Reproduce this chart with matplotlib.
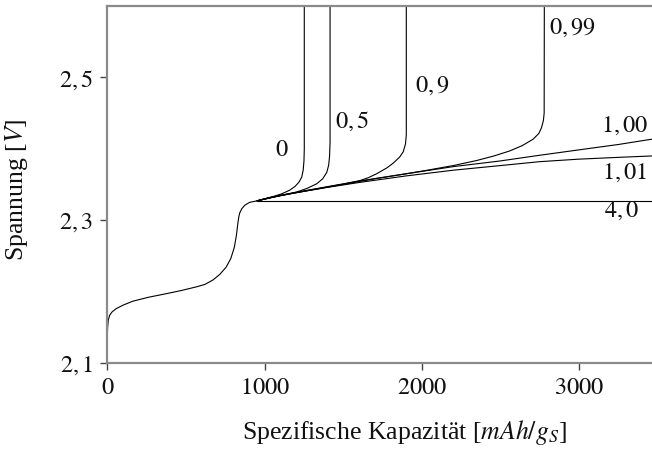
import matplotlib
matplotlib.use("Agg")
import matplotlib.pyplot as plt
from matplotlib.ticker import FuncFormatter

plt.rcParams["font.family"] = ["Liberation Serif", "DejaVu Serif"]
plt.rcParams["mathtext.fontset"] = "stix"

# Common discharge path (capacity in mAh/g_S, voltage in V)
base_cap = [0, 2, 6, 15, 30, 55, 100, 161, 260, 373, 470, 564, 620, 670, 715,
            755, 785, 808, 822, 830, 836, 842, 855, 875, 905, 950]
base_volt = [2.1395, 2.150, 2.160, 2.167, 2.1715, 2.176, 2.181, 2.1865, 2.192,
             2.197, 2.2015, 2.2065, 2.210, 2.216, 2.224, 2.234, 2.246, 2.262,
             2.280, 2.295, 2.304, 2.310, 2.316, 2.321, 2.325, 2.327]

# Branches after the plateau onset
cap_0 = [950, 1000, 1060, 1110, 1160, 1195, 1220, 1237, 1246, 1251, 1253, 1253]
volt_0 = [2.327, 2.3300, 2.3335, 2.3370, 2.3420, 2.3475, 2.3535, 2.3605,
          2.3700, 2.3830, 2.4000, 2.6000]

cap_05 = [950, 1030, 1120, 1205, 1270, 1332, 1370, 1396, 1408, 1414, 1417, 1417]
volt_05 = [2.327, 2.3315, 2.3355, 2.3395, 2.3445, 2.3510, 2.3580, 2.3670,
           2.3770, 2.3900, 2.4100, 2.6000]

cap_09 = [950, 1100, 1250, 1400, 1500, 1607, 1660, 1713, 1780, 1819, 1860,
          1883, 1897, 1902, 1902]
volt_09 = [2.327, 2.3345, 2.3405, 2.3465, 2.3505, 2.3555, 2.3595, 2.3650,
           2.3735, 2.3800, 2.3885, 2.3960, 2.4070, 2.4200, 2.6000]

cap_099 = [950, 1100, 1300, 1500, 1700, 1900, 2030, 2200, 2348, 2460, 2560,
           2640, 2709, 2745, 2762, 2774, 2779, 2780]
volt_099 = [2.327, 2.3345, 2.3425, 2.3500, 2.3580, 2.3650, 2.3698, 2.3765,
            2.3835, 2.3900, 2.3970, 2.4045, 2.4135, 2.4215, 2.4295, 2.4395,
            2.4500, 2.6000]

cap_100 = [950, 1050, 1200, 1400, 1607, 1900, 2200, 2500, 2752, 3000, 3250, 3465]
volt_100 = [2.327, 2.3325, 2.3390, 2.3470, 2.3550, 2.3650, 2.3750, 2.3830,
            2.3910, 2.3985, 2.4060, 2.4135]

cap_101 = [950, 1050, 1200, 1400, 1607, 1900, 2200, 2500, 2752, 3000, 3250, 3465]
volt_101 = [2.327, 2.3320, 2.3385, 2.3460, 2.3530, 2.3620, 2.3700, 2.3765,
            2.3820, 2.3855, 2.3880, 2.3900]

cap_40 = [950, 3465]
volt_40 = [2.327, 2.327]

branch_labels = ["0", "0,5", "0,9", "0,99", "1,00", "1,01", "4,0"]

x_ticks = [0, 1000, 2000, 3000]
y_ticks = [2.1, 2.3, 2.5]

FS = 17.5
FS_AXIS = 18.5

fig = plt.figure(figsize=(6.52, 4.5), dpi=100)
ax = fig.add_axes([0.1646, 0.1933, 0.8354, 0.7934])

line_kw = dict(color="black", lw=0.8, solid_capstyle="butt")
ax.plot(base_cap, base_volt, **line_kw)
branches = [(cap_0, volt_0), (cap_05, volt_05), (cap_09, volt_09),
            (cap_099, volt_099), (cap_100, volt_100), (cap_101, volt_101),
            (cap_40, volt_40)]
for cx, cy in branches:
    ax.plot(cx, cy, **line_kw)

# Curve annotations
label_pos = [(1111, 2.397), (1557, 2.439), (2065, 2.488), (2962, 2.569),
             (3292, 2.432), (3292, 2.367), (3274, 2.313)]
for text, (lx, ly) in zip(branch_labels, label_pos):
    ax.text(lx, ly, "$" + text + "$", fontsize=FS, ha="center", va="center",
            color="#111111")

ax.set_xlim(0, 3465)
ax.set_ylim(2.1, 2.6)
ax.set_xticks(x_ticks)
ax.set_yticks(y_ticks)
ax.xaxis.set_major_formatter(FuncFormatter(lambda v, p: f"${v:.0f}$"))
ax.yaxis.set_major_formatter(
    FuncFormatter(lambda v, p: "$" + f"{v:.1f}".replace(".", ",") + "$"))
ax.tick_params(direction="out", length=5, width=1, color="#444444",
               labelsize=FS, labelcolor="#111111")
ax.tick_params(axis="x", pad=6)
ax.tick_params(axis="y", pad=5)

for side in ("left", "bottom", "top"):
    ax.spines[side].set_color("#8a8a8a")
    ax.spines[side].set_linewidth(1.6)
ax.spines["right"].set_visible(False)

fig.text(0.621, 0.0378, r"Spezifische Kapazität [$mAh/g_S$]", fontsize=FS_AXIS,
         ha="center", va="center", color="#111111")
fig.text(0.026, 0.578, r"Spannung [$V$]", fontsize=FS_AXIS, rotation=90,
         ha="center", va="center", color="#111111")

fig.savefig("out.png", dpi=100)
